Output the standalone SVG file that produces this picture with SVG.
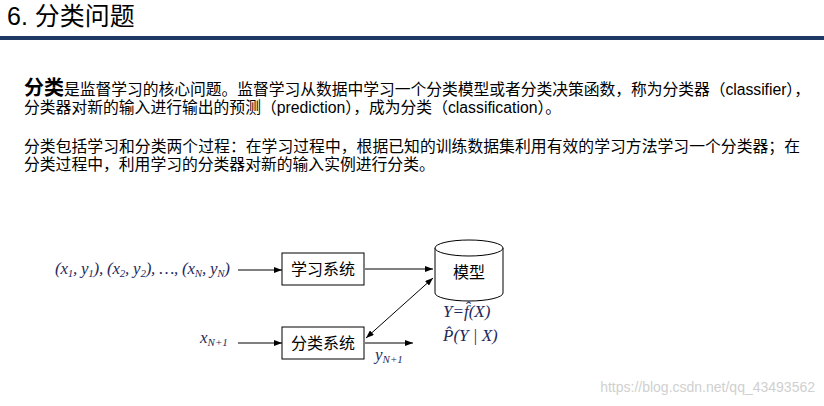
<svg xmlns="http://www.w3.org/2000/svg" width="824" height="406" viewBox="0 0 824 406">
<style>
.cn{font-family:"Liberation Sans","Noto Sans CJK SC",sans-serif;fill:#000}
.body{font-size:15.8px}
.m{font-family:"Liberation Serif","Noto Serif",serif;font-style:italic;fill:#1f2a5c;font-size:17px}
.sub{font-size:11px}
.box{fill:#fff;stroke:#000;stroke-width:1}
.ln{stroke:#000;stroke-width:1;fill:none}
</style>
<defs>
<marker id="ah" markerWidth="8" markerHeight="6" refX="8" refY="3" orient="auto-start-reverse" markerUnits="userSpaceOnUse"><path d="M0,0 L8,3 L0,6 z" fill="#000"/></marker>
</defs>
<rect width="824" height="406" fill="#fff"/>
<text x="7" y="25" class="cn" font-size="25">6. 分类问题</text>
<rect x="0" y="36" width="824" height="4" fill="#1f3864"/>
<text x="24" y="95" class="cn body" textLength="786" lengthAdjust="spacing"><tspan font-size="20" font-weight="bold">分类</tspan>是监督学习的核心问题。监督学习从数据中学习一个分类模型或者分类决策函数，称为分类器（classifier），</text>
<text x="24" y="113" class="cn body">分类器对新的输入进行输出的预测（prediction），成为分类（classification）。</text>
<text x="24" y="152" class="cn body" textLength="776" lengthAdjust="spacing">分类包括学习和分类两个过程：在学习过程中，根据已知的训练数据集利用有效的学习方法学习一个分类器；在</text>
<text x="24" y="170" class="cn body">分类过程中，利用学习的分类器对新的输入实例进行分类。</text>
<g id="connectors">
<line class="ln" x1="238" y1="270" x2="282" y2="270" marker-end="url(#ah)"/>
<line class="ln" x1="365" y1="269" x2="433" y2="269" marker-end="url(#ah)"/>
<line class="ln" x1="238" y1="343" x2="282" y2="343" marker-end="url(#ah)"/>
<line class="ln" x1="365" y1="343" x2="413" y2="343" marker-end="url(#ah)"/>
<line class="ln" x1="366" y1="338" x2="433" y2="278" marker-start="url(#ah)" marker-end="url(#ah)"/>
</g>
<g id="input"><text x="55" y="274" class="m" textLength="175" lengthAdjust="spacing">(x<tspan class="sub" dy="3">1</tspan><tspan dy="-3">, y</tspan><tspan class="sub" dy="3">1</tspan><tspan dy="-3">), (x</tspan><tspan class="sub" dy="3">2</tspan><tspan dy="-3">, y</tspan><tspan class="sub" dy="3">2</tspan><tspan dy="-3">), …, (x</tspan><tspan class="sub" dy="3">N</tspan><tspan dy="-3">, y</tspan><tspan class="sub" dy="3">N</tspan><tspan dy="-3">)</tspan></text></g>
<g id="learn"><rect class="box" x="282" y="253" width="82" height="32"/><text x="323" y="275" text-anchor="middle" class="cn" font-size="16">学习系统</text></g>
<g id="classify"><rect class="box" x="282" y="327" width="82" height="32"/><text x="323" y="349" text-anchor="middle" class="cn" font-size="16">分类系统</text></g>
<g id="model">
<path d="M435,248 L435,293 A34,8 0 0 0 503,293 L503,248" class="box"/>
<ellipse cx="469" cy="248" rx="34" ry="8" class="box"/>
<text x="469" y="278" text-anchor="middle" class="cn" font-size="16">模型</text>
<text x="443" y="317" class="m">Y=f̂(X)</text>
<text x="443" y="341" class="m">P̂(Y | X)</text>
</g>
<g id="xn"><text x="200" y="343" class="m">x<tspan class="sub" dy="3">N+1</tspan></text></g>
<g id="yn"><text x="375" y="360" class="m">y<tspan class="sub" dy="3">N+1</tspan></text></g>
<text x="815" y="392" text-anchor="end" font-family="Liberation Sans,sans-serif" font-size="14" fill="#d0d0d0">https://blog.csdn.net/qq_43493562</text>
</svg>
